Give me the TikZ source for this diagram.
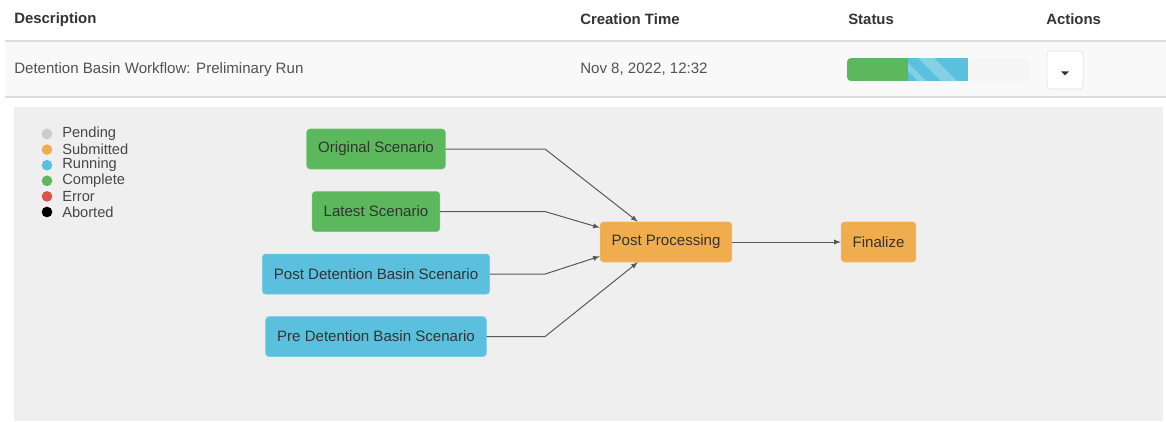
\documentclass[tikz,border=0pt]{standalone}
\usepackage{fontspec}
\setmainfont{Liberation Sans}
\usepackage{tikz}
\usetikzlibrary{positioning,calc}
\definecolor{complete}{HTML}{5CB85C}
\definecolor{running}{HTML}{5BC0DE}
\definecolor{submitted}{HTML}{F0AD4E}
\definecolor{pending}{HTML}{CCCCCC}
\definecolor{failed}{HTML}{D9534F}
\definecolor{panelgray}{HTML}{EFEFEF}
\definecolor{rowgray}{HTML}{F9F9F9}
\definecolor{rulegray}{HTML}{DDDDDD}
\definecolor{txt}{HTML}{333333}
\tikzset{
task/.style={rectangle, rounded corners=2.5pt, draw=#1!85!white, fill=#1, text=txt, inner xsep=8.6pt, minimum height=30pt, font=\fontsize{11.3}{12}\selectfont, node distance=16.5pt},
head/.style={anchor=west, text=txt, inner sep=0pt, font=\fontsize{11.2}{12}\selectfont\bfseries},
cell/.style={anchor=west, text=txt!85!white, inner sep=0pt, font=\fontsize{11.3}{12}\selectfont},
dot/.style={circle, fill=#1, inner sep=0pt, minimum size=8pt},
legend/.style={anchor=west, text=txt!90!white, inner sep=0pt, font=\fontsize{11}{11}\selectfont},
connect/.style={-latex, draw=black!65, line width=0.75pt}
}

\begin{document}
\begin{tikzpicture}[x=0.75pt, y=-0.75pt]
        \useasboundingbox[fill=white] (0,0) rectangle (1166,421);
        % table header and row
        \fill[rowgray] (5,41) rectangle (1166,97);
        \draw[rulegray, line width=1.5pt] (5,40.5) -- (1166,40.5);
        \draw[rulegray, line width=0.8pt] (5,97) -- (1166,97);
        \node[head] (h_desc) at (14,19.5) {Description};
        \node[head] (h_time) at (580,19.5) {Creation Time};
        \node[head] (h_status) at (848,19.5) {Status};
        \node[head] (h_actions) at (1046,19.5) {Actions};
        \node[cell] (desc) at (14,69.5) {Detention Basin Workflow: Preliminary Run};
        \node[cell] (time) at (580,69.5) {Nov 8, 2022, 12:32};

        % status bar
        \fill[black!4, rounded corners=3pt] (847,58) rectangle (1029,81);
        \begin{scope}
            \clip[rounded corners=3pt] (847,58) rectangle (1029,81);
            \fill[complete] (847,58) rectangle (908,81);
            \fill[running] (908,58) rectangle (968,81);
            \clip (908,58) rectangle (968,81);
            \fill[running!75!white] (918,58) -- (934,58) -- (957,81) -- (941,81) -- cycle;
            \fill[running!75!white] (895,58) -- (903,58) -- (926,81) -- (918,81) -- cycle;
        \end{scope}

        % actions button
        \node[rectangle, rounded corners=2.5pt, draw=rulegray, fill=white, minimum width=27pt, minimum height=28.5pt] (btn) at (1065,70) {};
        \fill[txt] ($(btn.center)+(-3pt,-1pt)$) -- ++(6pt,0) -- ++(-3pt,-3pt) -- cycle;

        % workflow panel
        \fill[panelgray] (14,107) rectangle (1163,421);

        \foreach \name/\col [count=\i] in {Pending/pending, Submitted/submitted, Running/running, Complete/complete, Error/failed, Aborted/black}{
            \node[dot=\col] (dot\i) at (47,{134+15.6*(\i-1)}) {};
            \node[legend] (lab\i) at (62,{134+15.6*(\i-1)}) {\name};
        }

        \node[task=complete] (orig) at (376,149) {Original Scenario};
        \node[task=complete, below=of orig] (latest) {Latest Scenario};
        \node[task=running, below=of latest] (postdet) {Post Detention Basin Scenario};
        \node[task=running, below=of postdet] (predet) {Pre Detention Basin Scenario};
        \node[task=submitted] (pp) at (666,242) {Post Processing};
        \node[task=submitted, right=81.5pt of pp] (final) {Finalize};
        \coordinate (bend) at (545,0);

        \draw[connect] (orig.east) -- (orig.east -| bend) -- ([xshift=28.5pt]pp.north west);
        \draw[connect] (latest.east) -- (latest.east -| bend) -- ([yshift=-4.5pt]pp.north west);
        \draw[connect] (postdet.east) -- (postdet.east -| bend) -- ([yshift=4.5pt]pp.south west);
        \draw[connect] (predet.east) -- (predet.east -| bend) -- ([xshift=28.5pt]pp.south west);
        \draw[connect] (pp) to (final);
    \end{tikzpicture}
\end{document}
